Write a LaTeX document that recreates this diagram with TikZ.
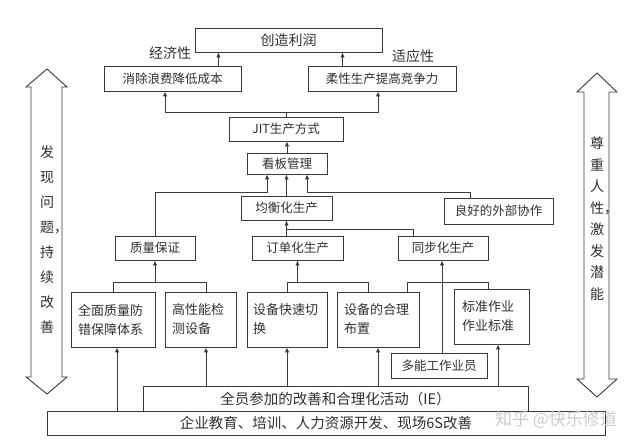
\documentclass[tikz,border=0pt]{standalone}
\usepackage{fontspec}
\setmainfont{Noto Sans CJK SC}
\usetikzlibrary{arrows.meta}
\definecolor{FigureLine}{HTML}{3A3A3A}
\definecolor{FigureText}{HTML}{303030}

\begin{document}
\begin{tikzpicture}[x=1pt,y=-1pt,line join=miter,
  box/.style={draw=FigureLine,line width=0.9pt,inner sep=0pt,text=FigureText,
    font=\fontsize{12.5}{15}\selectfont},
  sized/.style 2 args={minimum width=#1pt,minimum height=#2pt},
  twoline/.style={box,align=left,text width=#1pt,font=\fontsize{13}{19}\selectfont},
  wide/.style={box,font=\fontsize{14.5}{16}\selectfont},
  tag/.style={text=FigureText,inner sep=0pt,font=\fontsize{14}{16}\selectfont},
  arr/.style={draw=FigureLine,line width=0.9pt,-{Latex[length=5pt,width=4.5pt]}},
  conn/.style={draw=FigureLine,line width=0.9pt},
  bigarrow/.style={draw=FigureLine,line width=0.9pt,fill=white}]
  \useasboundingbox (0,0) rectangle (640,447);

  % side arrows
  \draw[bigarrow] (47,69)--(67,87)--(62,87)--(62,377)--(67,377)--(47,394)--(26,377)--(31,377)--(31,87)--(26,87)--cycle;
  \draw[bigarrow] (597,73)--(617,92)--(609,92)--(609,379)--(617,379)--(597,397)--(577,379)--(584,379)--(584,92)--(577,92)--cycle;
  \node[tag,align=center,font=\fontsize{14}{25}\selectfont] (findtxt) at (47,239.5)
    {发\\现\\问\\题\rlap{，}\\持\\续\\改\\善};
  \node[tag,align=center,font=\fontsize{14}{21.5}\selectfont] (humantxt) at (597,218.5)
    {尊\\重\\人\\性\rlap{，}\\激\\发\\潜\\能};

  % boxes
  \node[box,sized={187}{24},font=\fontsize{14}{16}\selectfont] (profit) at (288.5,40) {创造利润};
  \node[box,sized={137}{25}] (cost) at (172.5,78.5) {消除浪费降低成本};
  \node[box,sized={148}{25}] (flex) at (382,78.5) {柔性生产提高竞争力};
  \node[tag] (econ) at (170,53) {经济性};
  \node[tag] (adapt) at (413,56) {适应性};
  \node[box,sized={114}{24}] (jit) at (286,129) {JIT生产方式};
  \node[box,sized={80}{21}] (kanban) at (287,163.5) {看板管理};
  \node[box,sized={91}{24}] (level) at (286.5,208) {均衡化生产};
  \node[box,sized={109}{26}] (coop) at (498.5,211) {良好的外部协作};
  \node[box,sized={80}{24}] (quality) at (155,248) {质量保证};
  \node[box,sized={91}{24}] (order) at (297.5,248) {订单化生产};
  \node[box,sized={90}{24}] (sync) at (443,248) {同步化生产};
  \node[twoline=70,sized={84}{55}] (poka) at (113,319.5) {全面质量防\\错保障体系};
  \node[twoline=57,sized={71}{55}] (inspect) at (200.5,319.5) {高性能检\\测设备};
  \node[twoline=68,sized={80}{55}] (smed) at (287,319.5) {设备快速切\\换};
  \node[twoline=68,sized={82}{55}] (layout) at (378,319.5) {设备的合理\\布置};
  \node[twoline=59,sized={75}{55}] (std) at (491.5,316.5) {标准作业\\作业标准};
  \node[box,sized={96}{25}] (multi) at (439,365.5) {多能工作业员};
  \node[wide,sized={558}{24}] (edu) at (326,423) {企业教育、培训、人力资源开发、现场6S改善};
  \node[wide,sized={385}{25}] (ie) at (335.5,398.5) {全员参加的改善和合理化活动（IE）};

  % bus lines
  \coordinate (topbus) at (0,112);
  \coordinate (kbus) at (0,192);
  \coordinate (lbus) at (0,229);
  \coordinate (rbus) at (0,282);

  % connectors
  \draw[arr] ([xshift=-23pt]cost.north east) -- ([xshift=-23pt]cost.north east |- profit.south);
  \draw[arr] ([xshift=35pt]flex.north west) -- ([xshift=35pt]flex.north west |- profit.south);
  \draw[conn] (jit.north) -- (jit.north |- topbus);
  \draw[arr,{Latex[length=5pt,width=4.5pt]}-{Latex[length=5pt,width=4.5pt]}]
    ([xshift=-7.5pt]cost.south) |- ([xshift=-4pt]flex.south |- topbus) -- ([xshift=-4pt]flex.south);
  \draw[arr] (kanban.north) -- (kanban.north |- jit.south);
  \draw[arr] (level.north) -- (level.north |- kanban.south);
  \draw[arr] (quality.north) |- ([xshift=-20pt]kanban.south |- kbus) -- ([xshift=-20pt]kanban.south);
  \draw[arr] ([xshift=-28.5pt]coop.north) |- ([xshift=20pt]kanban.south |- kbus) -- ([xshift=20pt]kanban.south);
  \draw[arr] (level.south |- order.north) -- (level.south);
  \draw[conn] ([xshift=-30pt]sync.north) |- (level.south |- lbus);
  \draw[conn] (poka.north) |- ([xshift=5.5pt]inspect.north |- rbus) -- ([xshift=5.5pt]inspect.north);
  \draw[arr] (quality.south |- rbus) -- (quality.south);
  \draw[conn] (smed.north) |- ([xshift=-10pt]layout.north |- rbus) -- ([xshift=-10pt]layout.north);
  \draw[arr] (order.south |- rbus) -- (order.south);
  \draw[conn] ([xshift=29pt]layout.north) |- ([xshift=-3.5pt]std.north |- rbus) -- ([xshift=-3.5pt]std.north);
  \draw[arr] ([xshift=3pt]multi.north) -- ([xshift=3pt]multi.north |- sync.south);
  \draw[arr] ([xshift=4pt]poka.south |- edu.north) -- ([xshift=4pt]poka.south);
  \draw[arr] ([xshift=5.5pt]inspect.south |- ie.north) -- ([xshift=5.5pt]inspect.south);
  \draw[arr] (smed.south |- ie.north) -- (smed.south);
  \draw[arr] (layout.south |- ie.north) -- (layout.south);
  \draw[arr] ([xshift=6.5pt]std.south |- ie.north) -- ([xshift=6.5pt]std.south);

  \node[text=gray!40,inner sep=0pt,font=\fontsize{17}{18}\selectfont] (mark) at (556,420) {知乎 @快乐修道};
\end{tikzpicture}
\end{document}
